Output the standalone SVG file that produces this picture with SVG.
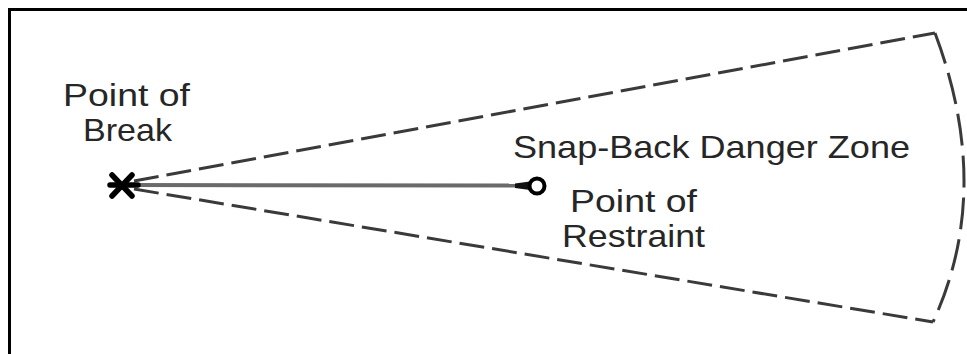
<svg xmlns="http://www.w3.org/2000/svg" width="967" height="354" viewBox="0 0 967 354">
  <style>
    .lbl { font-family: "Liberation Sans", Arial, sans-serif; font-size: 32px; fill: #262626; }
    .zone { fill: none; stroke: #3a3a3a; stroke-width: 3; stroke-dasharray: 25 8; stroke-linecap: butt; }
    .frame { fill: none; stroke: #000; stroke-width: 3; }
  </style>
  <rect width="967" height="354" fill="#ffffff"/>

  <!-- frame: top and left edges only -->
  <path class="frame" d="M9.5 354 V9.5 H967"/>

  <!-- snap-back danger zone: dashed wedge fanning out from the break point -->
  <g id="danger-zone">
    <path class="zone" d="M134 181 L935 33"/>
    <path class="zone" d="M134 189 L933 322"/>
    <path class="zone" d="M935 33 Q994 190 933 322" style="stroke-dasharray: 32 10"/>
    <text class="lbl" x="513" y="158" textLength="397" lengthAdjust="spacingAndGlyphs">Snap-Back Danger Zone</text>
  </g>

  <!-- connector: the line running from the break point to the restraint -->
  <g id="connectors">
    <line x1="128" y1="185" x2="522" y2="185.5" stroke="#6a6a6a" stroke-width="4"/>
    <path d="M515 183.5 L530 181.5 L530 190 L515 188 Z" fill="#111"/>
  </g>

  <!-- point of break -->
  <g id="point-of-break">
    <g stroke="#000" stroke-width="5.5" stroke-linecap="round">
      <line x1="112" y1="175" x2="132" y2="196"/>
      <line x1="112" y1="196" x2="132" y2="175"/>
      <line x1="110" y1="185" x2="138" y2="185"/>
    </g>
    <text class="lbl" x="63" y="106" textLength="127" lengthAdjust="spacingAndGlyphs">Point of</text>
    <text class="lbl" x="83" y="141" textLength="89" lengthAdjust="spacingAndGlyphs">Break</text>
  </g>

  <!-- point of restraint -->
  <g id="point-of-restraint">
    <circle cx="537" cy="186" r="7.5" fill="#fff" stroke="#000" stroke-width="4"/>
    <text class="lbl" x="570" y="212" textLength="127" lengthAdjust="spacingAndGlyphs">Point of</text>
    <text class="lbl" x="562" y="247" textLength="143" lengthAdjust="spacingAndGlyphs">Restraint</text>
  </g>
</svg>
